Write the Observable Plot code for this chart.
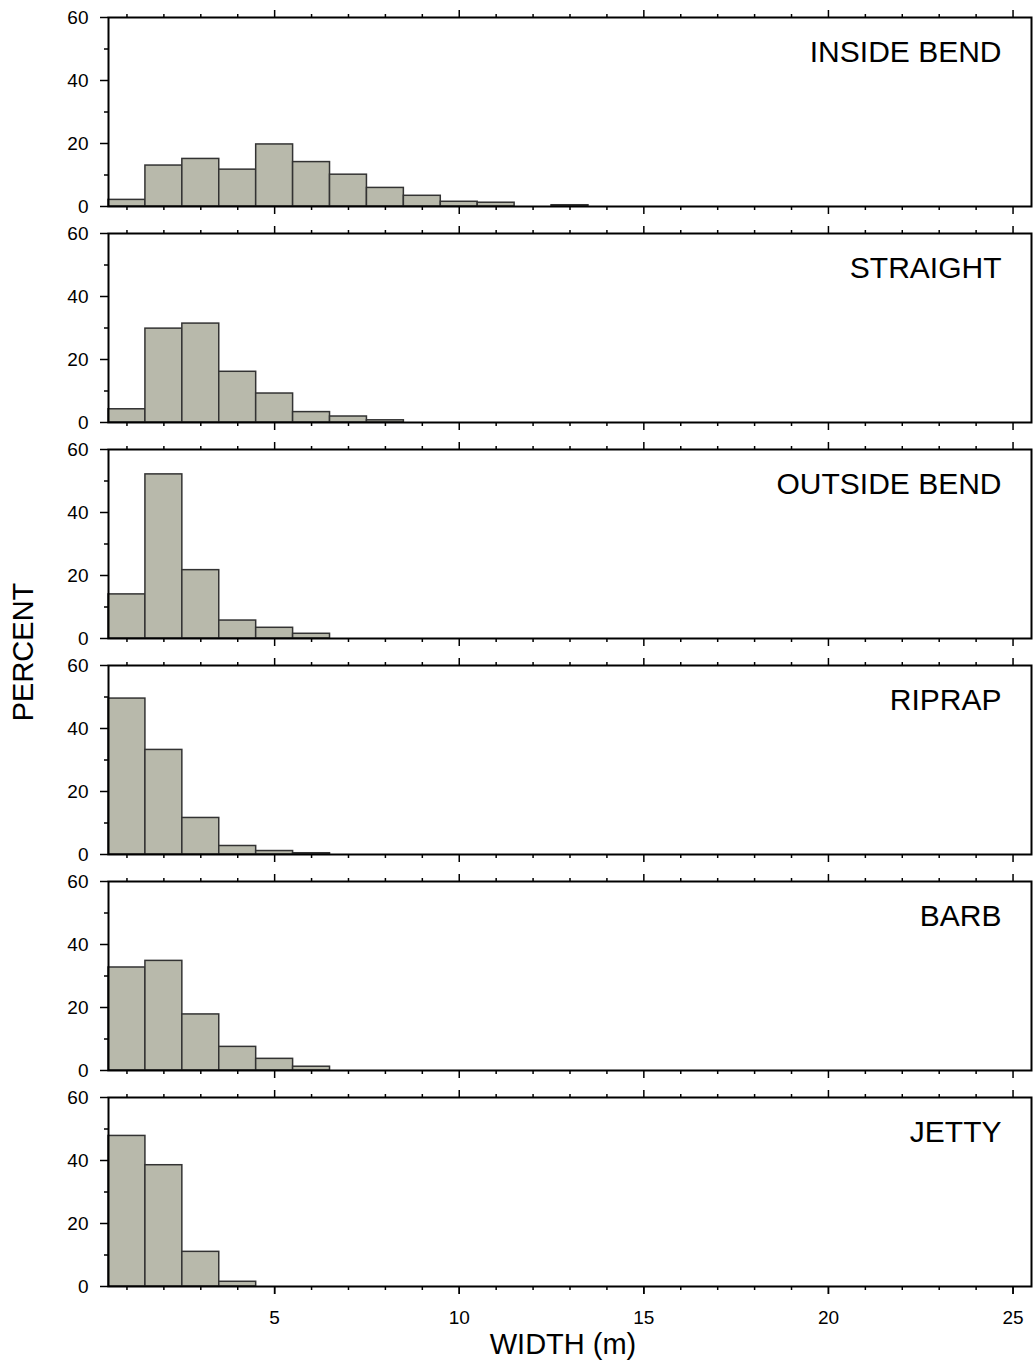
<!DOCTYPE html>
<html><head><meta charset="utf-8">
<script src="https://cdn.jsdelivr.net/npm/d3@7"></script>
<script src="https://cdn.jsdelivr.net/npm/@observablehq/plot@0.6"></script>
<style>html,body{margin:0;padding:0;background:#fff}</style>
</head><body><div id="chart"></div>
<script>
// Panels (top to bottom)
const panels = ["INSIDE BEND", "STRAIGHT", "OUTSIDE BEND", "RIPRAP", "BARB", "JETTY"];
// Width bin centres (m); each bin is 1 m wide
const binCenters = [1, 2, 3, 4, 5, 6, 7, 8, 9, 10, 11, 12, 13];
// Percent of observations per bin
const insideBend  = [2.1, 13.0, 15.1, 11.7, 19.7, 14.1, 10.1, 5.9, 3.4, 1.5, 1.2, 0, 0.4];
const straight    = [4.2, 29.8, 31.4, 16.1, 9.2, 3.3, 1.9, 0.7];
const outsideBend = [14.0, 52.1, 21.7, 5.7, 3.4, 1.5];
const riprap      = [49.5, 33.2, 11.6, 2.7, 1.1, 0.4];
const barb        = [32.7, 34.8, 17.8, 7.5, 3.7, 1.2];
const jetty       = [47.8, 38.5, 11.0, 1.5];
// Ticks
const xMajor = [5, 10, 15, 20, 25];
const xMinor = [1, 2, 3, 4, 6, 7, 8, 9, 11, 12, 13, 14, 16, 17, 18, 19, 21, 22, 23, 24];
const yMajor = [0, 20, 40, 60];
const yMinor = [10, 30, 50];

const series = [insideBend, straight, outsideBend, riprap, barb, jetty];
const rows = [];
series.forEach((vals, i) => vals.forEach((v, j) => rows.push({panel: panels[i], bin: binCenters[j], pct: v})));

const tickStyle = {strokeWidth: 1.5, label: null};
const chart = Plot.plot({
  width: 1033,
  height: 1367,
  marginLeft: 108,
  marginRight: 2,
  marginTop: 17,
  marginBottom: 81,
  style: {fontFamily: "'Liberation Sans', Arial, sans-serif", fontSize: "19px", color: "black", background: "white", overflow: "visible"},
  x: {domain: [0.5, 25.5]},
  y: {domain: [0, 60]},
  fy: {domain: panels, axis: null, paddingInner: 0.1264, paddingOuter: 0},
  marks: [
    Plot.rectY(rows, {x1: d => d.bin - 0.5, x2: d => d.bin + 0.5, y: "pct", fy: "panel", fill: "#b8b9ab", stroke: "#333", strokeWidth: 1.5}),
    Plot.frame({stroke: "black", strokeWidth: 2}),
    Plot.axisY(yMajor, {...tickStyle, tickSize: 8, tickPadding: 12, fontSize: 19}),
    Plot.axisY(yMinor, {...tickStyle, tickSize: 4, text: null}),
    Plot.axisX(xMajor, {...tickStyle, tickSize: 8, tickPadding: 16, fontSize: 19}),
    Plot.axisX(xMajor, {...tickStyle, tickSize: 8, text: null, facetAnchor: null}),
    Plot.axisX(xMinor, {...tickStyle, tickSize: 4, text: null, facetAnchor: null}),
    Plot.axisX(xMajor, {...tickStyle, anchor: "top", tickSize: 8, text: null, facetAnchor: null}),
    Plot.axisX(xMinor, {...tickStyle, anchor: "top", tickSize: 4, text: null, facetAnchor: null}),
    Plot.text(panels, {fy: d => d, text: d => d, frameAnchor: "top-right", textAnchor: "end", lineAnchor: "top", dx: -30, dy: 23, fontSize: 30, fill: "black"}),
    Plot.text(["PERCENT"], {facet: "super", text: d => d, frameAnchor: "left", textAnchor: "middle", lineAnchor: "middle", rotate: -90, dx: -85, fontSize: 29, fill: "black"}),
    Plot.text(["WIDTH (m)"], {facet: "super", text: d => d, frameAnchor: "bottom", lineAnchor: "middle", dx: -7, dy: 58, fontSize: 29, fill: "black"})
  ]
});
document.getElementById("chart").appendChild(chart);
</script>
</body></html>
